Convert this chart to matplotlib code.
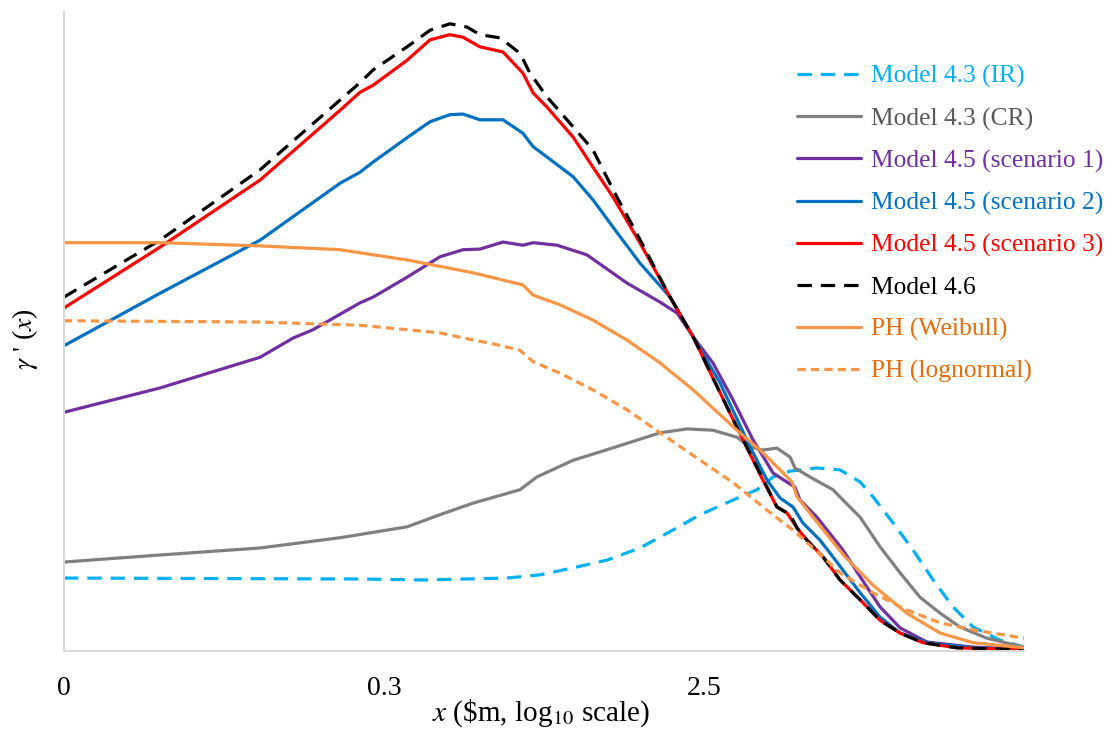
import matplotlib
matplotlib.use("Agg")
import matplotlib.pyplot as plt

plt.rcParams['font.family'] = ['Liberation Serif', 'DejaVu Serif']
plt.rcParams['mathtext.fontset'] = 'stix'

# x: position on the log10 loss axis (0..300, ticks at 0, 100, 200)
# y: gamma'(x), arbitrary units (0..100)

# Model 4.3 (IR)
x_ir = [0, 92.5, 112.2, 138.4, 148.8, 159.1, 169.7, 180, 190.3, 198.8, 209.1, 216.6, 221.6,
        226.9, 235.3, 242.5, 248.8, 252.8, 259.1, 265.3, 271.6, 277.8, 284.1, 292.5, 300]
y_ir = [11.4, 11.25, 11.1, 11.4, 11.9, 13.0, 14.2, 16.1, 18.9, 21.3, 23.6, 25.2, 27.2,
        28.1, 28.6, 28.3, 26.4, 24.1, 20.0, 15.8, 11.1, 6.9, 3.75, 1.7, 0.6]

# Model 4.3 (CR)
x_cr = [0, 30, 61.3, 86.3, 107.2, 117.5, 127.8, 142.5, 147.8, 159.1, 170.6, 186.3, 194.7,
        202.8, 210.3, 214.4, 218.4, 222.8, 226.9, 228.4, 233.1, 240.3, 245.6, 248.8, 255,
        261.3, 267.5, 273.8, 280, 288.4, 300]
y_cr = [13.9, 15.0, 16.1, 17.7, 19.4, 21.3, 23.1, 25.2, 27.2, 29.8, 31.6, 34.1, 34.7,
        34.5, 33.4, 31.9, 31.4, 31.7, 30.3, 28.6, 27.2, 25.2, 22.5, 20.9, 16.3,
        12.2, 8.4, 5.9, 3.75, 2.0, 0.6]

# Model 4.5 (scenario 1)
x_s1 = [0, 30, 61.3, 71.6, 77.8, 92.5, 96.6, 107.2, 117.5, 124.7, 130, 137.2, 143.4, 146.6,
        154.1, 163.4, 175.9, 186.3, 191.6, 196.6, 202.8, 209.1, 215.3, 221.6, 225.9, 228.4,
        230, 235.3, 243.4, 248.8, 255, 261.3, 269.7, 284.1, 300]
y_s1 = [37.3, 41.1, 45.9, 48.9, 50.2, 54.4, 55.3, 58.4, 61.6, 62.7, 62.8, 63.9, 63.4, 63.8,
        63.4, 61.9, 57.5, 54.5, 52.8, 49.1, 45.0, 39.2, 33.0, 27.8, 26.4, 25.6,
        23.6, 20.9, 15.8, 11.6, 6.9, 3.6, 1.4, 0.6, 0.3]

# Model 4.5 (scenario 2)
x_s2 = [0, 30, 61.3, 86.3, 92.5, 96.6, 107.2, 114.4, 120.6, 124.7, 130, 137.2, 143.4, 146.6,
        150.9, 159.1, 165.3, 172.2, 180, 189.4, 196.6, 205, 214.4, 219.7, 223.8, 227.8,
        230.9, 236.3, 240.3, 248.8, 255, 261.3, 269.7, 284.1, 300]
y_s2 = [47.7, 55.9, 64.2, 73.1, 74.8, 76.4, 80.2, 82.7, 83.8, 83.9, 83.0, 83.0, 80.9, 78.8,
        77.2, 74.1, 70.5, 65.8, 60.6, 55.3, 49.1, 41.9, 31.9, 26.7, 23.9, 22.5,
        20.0, 17.3, 14.7, 9.1, 5.3, 2.8, 1.3, 0.5, 0.2]

# Model 4.5 (scenario 3)
x_s3 = [0, 30, 61.3, 86.3, 92.5, 96.6, 107.2, 114.4, 120.6, 124.7, 130, 137.2, 143.4, 146.6,
        150.9, 159.1, 165.3, 171.6, 180, 189.4, 196.6, 204.1, 212.2, 218.4, 222.8, 225.9,
        229.1, 232.2, 237.2, 242.5, 248.8, 255, 261.3, 268.4, 279.1, 300]
y_s3 = [53.6, 63.1, 73.6, 84.5, 87.3, 88.4, 92.3, 95.5, 96.3, 95.9, 94.4, 93.6, 90.3, 87.2,
        85.0, 80.3, 75.6, 70.9, 63.75, 55.3, 49.1, 41.3, 33.0, 26.7, 22.5, 21.6,
        19.2, 17.3, 14.7, 11.1, 8.0, 4.8, 2.8, 1.3, 0.5, 0.2]

# Model 4.6
x_m46 = [0, 30, 61.3, 86.3, 92.5, 96.6, 107.2, 114.4, 120.6, 125.9, 130, 136.3, 142.5, 145.6,
         150.9, 159.1, 165.3, 172.8, 178.4, 189.4, 196.6, 204.1, 212.2, 218.4, 222.8, 226.9,
         229.1, 232.2, 237.2, 242.5, 248.8, 255, 261.3, 268.4, 279.1, 300]
y_m46 = [55.3, 64.2, 75.2, 86.1, 88.8, 90.8, 94.4, 97.0, 98.0, 97.5, 96.3, 95.8, 93.4, 90.3,
         86.6, 81.9, 78.3, 70.9, 65.8, 55.3, 49.1, 41.3, 33.0, 26.9, 22.5, 21.3,
         19.2, 17.3, 14.7, 11.1, 8.0, 4.8, 2.8, 1.3, 0.5, 0.2]

# PH (Weibull)
x_wb = [0, 30, 61.3, 86.3, 107.2, 127.8, 143.4, 146.6, 155, 165.3, 175.9, 186.3, 196.6,
        210.3, 217.5, 223.8, 227.5, 229.1, 234.1, 244.1, 252.8, 263.4, 273.8, 284.1, 300]
y_wb = [63.8, 63.8, 63.3, 62.7, 61.1, 59.1, 57.2, 55.6, 54.1, 51.7, 48.6, 45.0, 40.8,
        34.5, 31.4, 28.3, 26.4, 24.1, 20.9, 14.7, 10.3, 5.9, 2.8, 1.3, 0.5]

# PH (lognormal)
x_ln = [0, 61.3, 92.5, 107.2, 117.5, 127.8, 133.1, 142.5, 146.6, 155, 165.3, 175.9, 186.3,
        198.8, 209.1, 219.7, 227.8, 237.2, 242.5, 252.8, 263.4, 273.8, 284.1, 300]
y_ln = [51.6, 51.4, 50.9, 50.2, 49.7, 48.6, 48.1, 47.0, 45.2, 43.4, 40.8, 37.7, 34.1,
        29.8, 26.3, 22.0, 18.9, 14.7, 12.2, 9.1, 6.4, 4.4, 3.3, 2.0]

tick_pos = [0, 100, 200]
tick_labels = ["0", "0.3", "2.5"]

# series: data, label, line colour, text colour, dash pattern
series = [
    (x_ir, y_ir, "Model 4.3 (IR)", "#00B0F0", "#00B0F0", (0, (4.5, 2.8))),
    (x_cr, y_cr, "Model 4.3 (CR)", "#808080", "#595959", "-"),
    (x_s1, y_s1, "Model 4.5 (scenario 1)", "#7030A0", "#7030A0", "-"),
    (x_s2, y_s2, "Model 4.5 (scenario 2)", "#0070C0", "#0070C0", "-"),
    (x_s3, y_s3, "Model 4.5 (scenario 3)", "#FF0000", "#FF0000", "-"),
    (x_m46, y_m46, "Model 4.6", "#000000", "#000000", (0, (4.5, 2.8))),
    (x_wb, y_wb, "PH (Weibull)", "#F79646", "#E46C0A", "-"),
    (x_ln, y_ln, "PH (lognormal)", "#F79646", "#E46C0A", (0, (2.6, 1.6))),
]

fig = plt.figure(figsize=(11.16, 7.29), dpi=100)
ax = fig.add_axes([64 / 1116, 1 - 651 / 729, 960 / 1116, 640 / 729])

for xs, ys, lab, col, tcol, ls in series:
    ax.plot(xs, ys, color=col, lw=2.3, linestyle=ls, label=lab,
            solid_capstyle='round', solid_joinstyle='round', dash_capstyle='butt')

ax.set_xlim(0, 300)
ax.set_ylim(0, 100)
ax.set_xticks(tick_pos)
ax.set_xticklabels(tick_labels, fontsize=20)
ax.set_yticks([])
ax.tick_params(axis='x', length=0, pad=18)
for s in ['top', 'right']:
    ax.spines[s].set_visible(False)
for s in ['left', 'bottom']:
    ax.spines[s].set_color('#D9D9D9')
    ax.spines[s].set_linewidth(1.5)

fig.text(541 / 1116, 1 - 721 / 729, r"$x$ (\$m, log$_{10}$ scale)", fontsize=21,
         ha='center', va='baseline')
fig.text(25 / 1116, 1 - 339 / 729, r"$\gamma$ ' ($x$)", rotation=90,
         fontsize=20, ha='center', va='center')

leg = fig.legend(loc='upper left', bbox_to_anchor=(797 / 1116, 1 - 65 / 729),
                 frameon=False, fontsize=18.4, handlelength=2.5, handletextpad=0.4,
                 labelspacing=0.74, borderpad=0, borderaxespad=0)
for txt, s in zip(leg.get_texts(), series):
    txt.set_color(s[4])

fig.savefig("out.png", dpi=100)
